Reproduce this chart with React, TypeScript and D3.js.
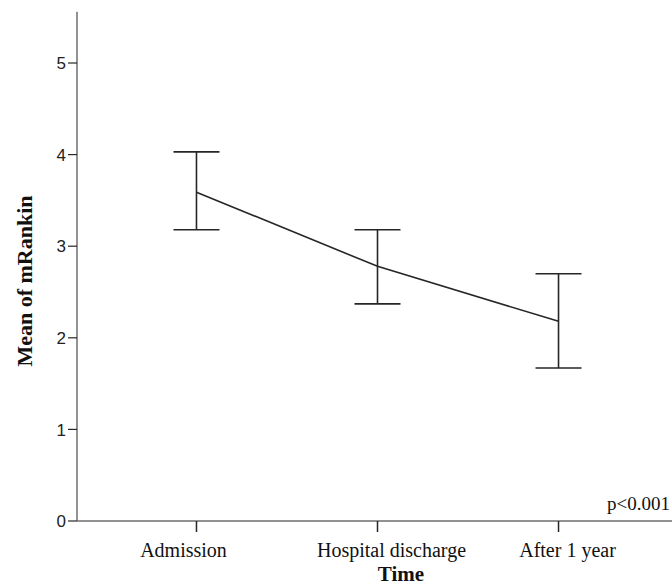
import React from "react";
import * as d3 from "d3";

const timePoints = ["Admission", "Hospital discharge", "After 1 year"];
const means = [3.59, 2.78, 2.18];
const upperCI = [4.03, 3.18, 2.7];
const lowerCI = [3.18, 2.37, 1.67];
const yTicks = [0, 1, 2, 3, 4, 5];

const width = 672;
const height = 586;

// SPSS puts the category labels slightly off their ticks
const labelShift = [-13, 14, 9];

const App = () => {
  const x = d3
    .scalePoint<string>()
    .domain(timePoints)
    .range([77, 678])
    .padding(0.66);

  const y = d3.scaleLinear().domain([0, 5]).range([521, 63]);

  const data = timePoints.map((t, i) => ({
    t,
    mean: means[i],
    hi: upperCI[i],
    lo: lowerCI[i],
  }));

  const lineGen = d3
    .line<{ t: string; mean: number }>()
    .x((d) => x(d.t) as number)
    .y((d) => y(d.mean));

  const capHalf = 23;
  const axisColor = "#6e6e6e";
  const inkColor = "#262626";

  return (
    <svg
      width={width}
      height={height}
      style={{ position: "absolute", left: 0, top: 0, background: "#fff" }}
    >
      {/* axes */}
      <line x1={77} x2={77} y1={y(5.56)} y2={y(0)} stroke={axisColor} strokeWidth={1.5} />
      <line x1={77} x2={width} y1={y(0)} y2={y(0)} stroke={axisColor} strokeWidth={1.5} />

      {yTicks.map((v) => (
        <g key={v} transform={`translate(77,${y(v)})`}>
          <line x1={-9} x2={0} stroke={inkColor} strokeWidth={1.2} />
          <text
            x={-11}
            dy="0.36em"
            textAnchor="end"
            fontFamily="Liberation Sans, Arial, sans-serif"
            fontSize={17}
            fill="#222"
          >
            {v}
          </text>
        </g>
      ))}

      {timePoints.map((t, i) => (
        <g key={t} transform={`translate(${x(t)},${y(0)})`}>
          <line y1={0} y2={11} stroke={inkColor} strokeWidth={1.5} />
          <text
            x={labelShift[i]}
            y={36}
            textAnchor="middle"
            fontFamily="Liberation Serif, Times New Roman, serif"
            fontSize={20}
            fill="#111"
          >
            {t}
          </text>
        </g>
      ))}

      {/* axis titles */}
      <text
        x={401}
        y={581}
        textAnchor="middle"
        fontFamily="Liberation Serif, Times New Roman, serif"
        fontWeight="bold"
        fontSize={21}
        fill="#111"
      >
        Time
      </text>
      <text
        transform="translate(32,281) rotate(-90)"
        textAnchor="middle"
        fontFamily="Liberation Serif, Times New Roman, serif"
        fontWeight="bold"
        fontSize={22}
        fill="#111"
      >
        Mean of mRankin
      </text>

      {/* error bars */}
      {data.map((d) => {
        const cx = x(d.t) as number;
        return (
          <g key={d.t} stroke={inkColor} strokeWidth={1.6}>
            <line x1={cx} x2={cx} y1={y(d.hi)} y2={y(d.lo)} />
            <line x1={cx - capHalf} x2={cx + capHalf} y1={y(d.hi)} y2={y(d.hi)} />
            <line x1={cx - capHalf} x2={cx + capHalf} y1={y(d.lo)} y2={y(d.lo)} />
          </g>
        );
      })}

      <path d={lineGen(data) || ""} fill="none" stroke={inkColor} strokeWidth={1.6} />

      <text
        x={670}
        y={510}
        textAnchor="end"
        fontFamily="Liberation Serif, Times New Roman, serif"
        fontSize={19}
        fill="#111"
      >
        p&lt;0.001
      </text>
    </svg>
  );
};

export default App;
